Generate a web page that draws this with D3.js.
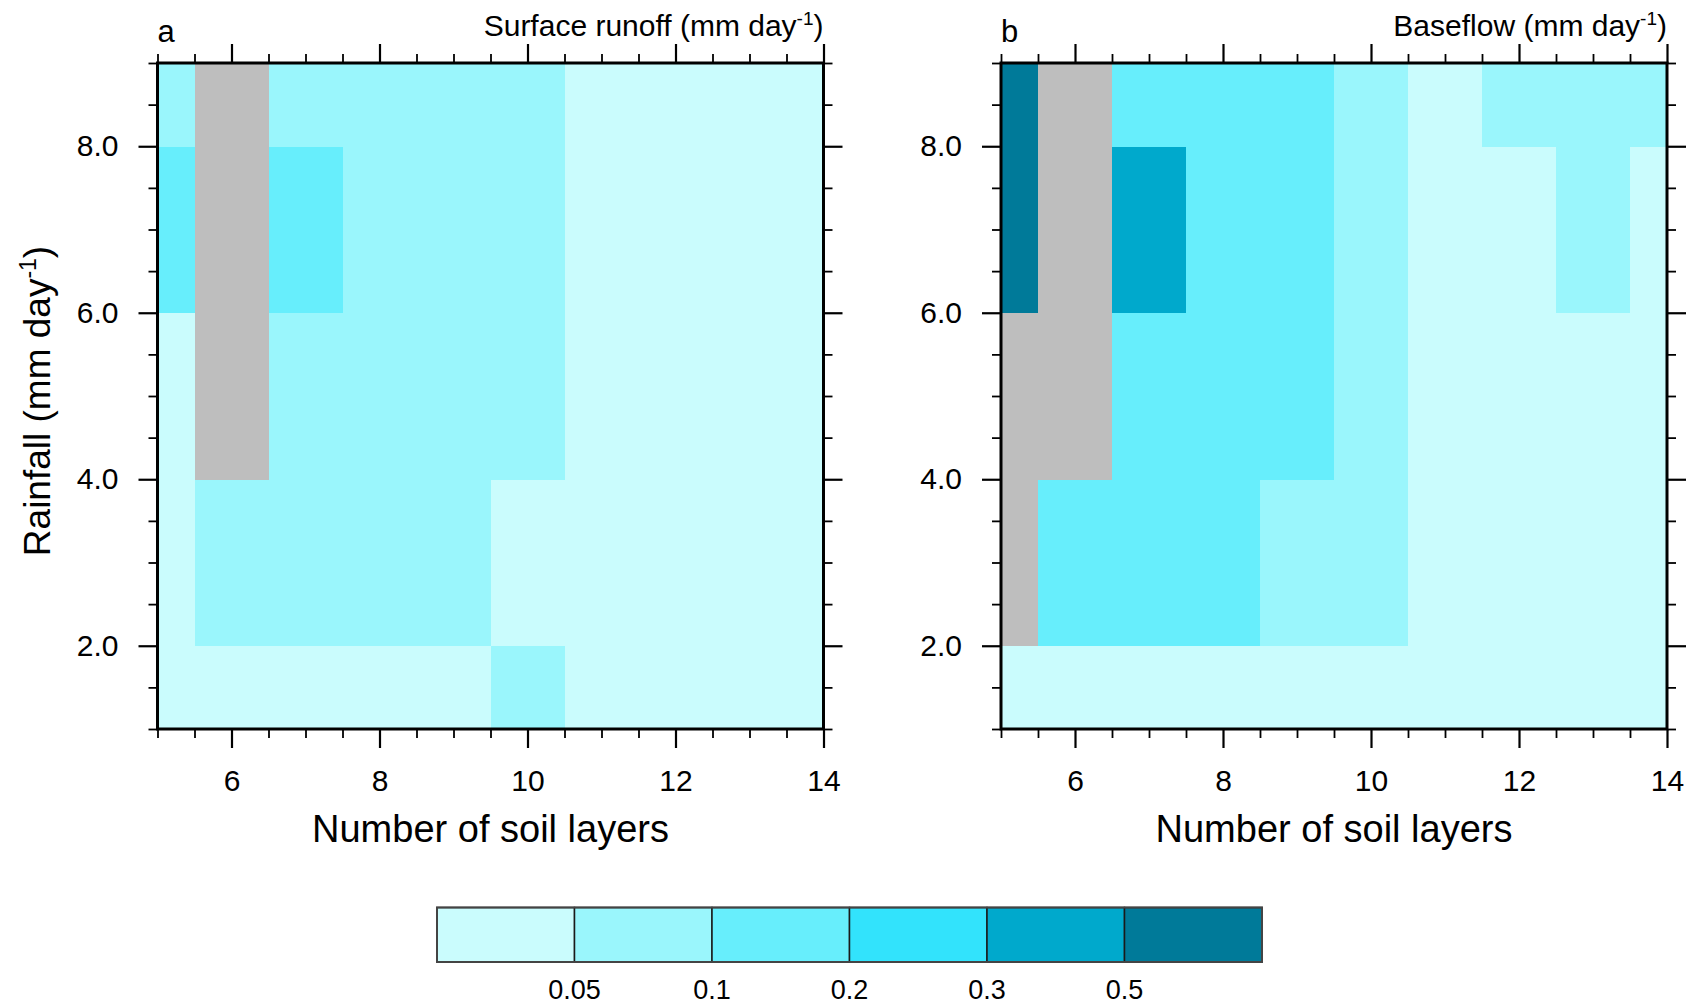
<!DOCTYPE html>
<html>
<head>
<meta charset="utf-8">
<script src="https://cdn.jsdelivr.net/npm/d3@7"></script>
<style>
  html, body { margin: 0; padding: 0; background: #fff; }
  svg { display: block; font-family: "Liberation Sans", Arial, Helvetica, sans-serif; }
</style>
</head>
<body>
<svg id="chart" width="1700" height="1005"></svg>
<script>
// ---------------- DATA ----------------
const layers = [5, 6, 7, 8, 9, 10, 11, 12, 13, 14];      // Number of soil layers
const rainfall = [1, 3, 5, 7, 9];                         // Rainfall (mm/day), rows bottom -> top

// Surface runoff (mm/day); rows follow `rainfall`, columns follow `layers`; null = missing
const runoff = [
  [0.03, 0.03, 0.03, 0.03, 0.04, 0.07, 0.02, 0.02, 0.02, 0.02],
  [0.04, 0.07, 0.08, 0.08, 0.06, 0.04, 0.03, 0.03, 0.02, 0.02],
  [0.04, null, 0.08, 0.08, 0.07, 0.06, 0.04, 0.03, 0.03, 0.03],
  [0.11, null, 0.11, 0.09, 0.08, 0.07, 0.04, 0.04, 0.03, 0.03],
  [0.09, null, 0.09, 0.09, 0.08, 0.07, 0.045, 0.04, 0.04, 0.03]
];

// Baseflow (mm/day)
const baseflow = [
  [0.03, 0.03, 0.04, 0.04, 0.04, 0.04, 0.03, 0.03, 0.03, 0.02],
  [null, 0.13, 0.14, 0.12, 0.09, 0.07, 0.04, 0.04, 0.03, 0.03],
  [null, null, 0.16, 0.15, 0.13, 0.08, 0.04, 0.04, 0.04, 0.03],
  [0.62, null, 0.35, 0.18, 0.15, 0.09, 0.045, 0.048, 0.06, 0.04],
  [0.58, null, 0.19, 0.17, 0.14, 0.09, 0.045, 0.06, 0.07, 0.06]
];

const levels = [0.05, 0.1, 0.2, 0.3, 0.5];
const levelLabels = ["0.05", "0.1", "0.2", "0.3", "0.5"];
const palette = ["#CAFCFD", "#9AF6FC", "#67EEFC", "#32E3FC", "#00A9CC", "#007A99"];
const missingColor = "#BEBEBE";

const xMajorTicks = [6, 8, 10, 12, 14];
const yMajorTicks = [2, 4, 6, 8];

const panels = [
  { tag: "a", title: "Surface runoff (mm day", data: runoff },
  { tag: "b", title: "Baseflow (mm day", data: baseflow }
];

// ---------------- DRAW ----------------
const svg = d3.select("#chart");
const color = d3.scaleThreshold().domain(levels).range(palette);

const plotTop = 63, plotBottom = 729;
const lefts = [157.5, 1001];
const plotW = 666;

function edges(arr, lo, hi) {
  return arr.map((v, i) => [
    i === 0 ? lo : (arr[i - 1] + v) / 2,
    i === arr.length - 1 ? hi : (v + arr[i + 1]) / 2
  ]);
}
const xEdges = edges(layers, 5, 14);
const yEdges = edges(rainfall, 1, 9);

const xMinor = d3.range(5, 14.001, 0.5).filter(v => !xMajorTicks.includes(v));
const yMinor = d3.range(1, 9.001, 0.5).filter(v => !yMajorTicks.includes(v));

panels.forEach((p, pi) => {
  const L = lefts[pi];
  const x = d3.scaleLinear().domain([5, 14]).range([L, L + plotW]);
  const y = d3.scaleLinear().domain([1, 9]).range([plotBottom, plotTop]);
  const g = svg.append("g");

  // cells
  const cells = [];
  p.data.forEach((row, ri) => row.forEach((v, ci) => cells.push({ v, ri, ci })));
  g.append("g").attr("shape-rendering", "crispEdges")
    .selectAll("rect").data(cells).join("rect")
    .attr("x", d => x(xEdges[d.ci][0]))
    .attr("width", d => x(xEdges[d.ci][1]) - x(xEdges[d.ci][0]) + 0.5)
    .attr("y", d => y(yEdges[d.ri][1]))
    .attr("height", d => y(yEdges[d.ri][0]) - y(yEdges[d.ri][1]) + 0.5)
    .attr("fill", d => d.v == null ? missingColor : color(d.v));

  // axes
  const styleAxis = (sel, w) => {
    sel.select(".domain").remove();
    sel.selectAll(".tick line").attr("stroke", "#000").attr("stroke-width", w);
  };
  const fs = "30px";

  // bottom
  g.append("g").attr("transform", `translate(0,${plotBottom})`)
    .call(d3.axisBottom(x).tickValues(xMajorTicks).tickSize(19).tickPadding(22).tickFormat(d3.format("d")))
    .call(s => styleAxis(s, 2.2))
    .call(s => s.selectAll("text").attr("font-size", fs).attr("fill", "#000").attr("font-family", "Liberation Sans, Arial, sans-serif"));
  g.append("g").attr("transform", `translate(0,${plotBottom})`)
    .call(d3.axisBottom(x).tickValues(xMinor).tickSize(9).tickFormat(""))
    .call(s => styleAxis(s, 1.8));
  // top
  g.append("g").attr("transform", `translate(0,${plotTop})`)
    .call(d3.axisTop(x).tickValues(xMajorTicks).tickSize(19).tickFormat(""))
    .call(s => styleAxis(s, 2.2));
  g.append("g").attr("transform", `translate(0,${plotTop})`)
    .call(d3.axisTop(x).tickValues(xMinor).tickSize(9).tickFormat(""))
    .call(s => styleAxis(s, 1.8));
  // left
  g.append("g").attr("transform", `translate(${L},0)`)
    .call(d3.axisLeft(y).tickValues(yMajorTicks).tickSize(19).tickPadding(20).tickFormat(d3.format(".1f")))
    .call(s => styleAxis(s, 2.2))
    .call(s => s.selectAll("text").attr("font-size", fs).attr("fill", "#000").attr("font-family", "Liberation Sans, Arial, sans-serif"));
  g.append("g").attr("transform", `translate(${L},0)`)
    .call(d3.axisLeft(y).tickValues(yMinor).tickSize(9).tickFormat(""))
    .call(s => styleAxis(s, 1.8));
  // right
  g.append("g").attr("transform", `translate(${L + plotW},0)`)
    .call(d3.axisRight(y).tickValues(yMajorTicks).tickSize(19).tickFormat(""))
    .call(s => styleAxis(s, 2.2));
  g.append("g").attr("transform", `translate(${L + plotW},0)`)
    .call(d3.axisRight(y).tickValues(yMinor).tickSize(9).tickFormat(""))
    .call(s => styleAxis(s, 1.8));

  // frame
  g.append("rect")
    .attr("x", x(5)).attr("y", y(9))
    .attr("width", x(14) - x(5)).attr("height", y(1) - y(9))
    .attr("fill", "none").attr("stroke", "#000").attr("stroke-width", 3);

  // tag label
  g.append("text").attr("x", x(5)).attr("y", 42)
    .attr("font-size", "31px").text(p.tag);

  // title (right aligned)
  const t = g.append("text").attr("x", x(14)).attr("y", 36)
    .attr("text-anchor", "end").attr("font-size", "30px");
  t.append("tspan").text(p.title);
  t.append("tspan").attr("font-size", "19px").attr("dy", -11).text("-1");
  t.append("tspan").attr("dy", 11).text(")");

  // x axis title
  g.append("text").attr("x", (x(5) + x(14)) / 2).attr("y", 842)
    .attr("text-anchor", "middle").attr("font-size", "38px")
    .text("Number of soil layers");

  // y axis title (only panel a)
  if (pi === 0) {
    const yt = g.append("text")
      .attr("transform", `translate(50,${(plotTop + plotBottom) / 2 + 5}) rotate(-90)`)
      .attr("text-anchor", "middle").attr("font-size", "37px");
    yt.append("tspan").text("Rainfall (mm day");
    yt.append("tspan").attr("font-size", "23px").attr("dy", -14).text("-1");
    yt.append("tspan").attr("dy", 14).text(")");
  }
});

// ---------------- COLORBAR ----------------
const cbX0 = 437, cbX1 = 1262, cbY0 = 907.5, cbY1 = 962;
const cb = d3.scaleLinear().domain([0, palette.length]).range([cbX0, cbX1]);
const cbg = svg.append("g");
cbg.selectAll("rect.box").data(palette).join("rect").attr("class", "box")
  .attr("x", (d, i) => cb(i)).attr("y", cbY0)
  .attr("width", (d, i) => cb(i + 1) - cb(i)).attr("height", cbY1 - cbY0)
  .attr("fill", d => d).attr("stroke", "#1a1a1a").attr("stroke-width", 1.5);
cbg.append("rect").attr("x", cbX0).attr("y", cbY0)
  .attr("width", cbX1 - cbX0).attr("height", cbY1 - cbY0)
  .attr("fill", "none").attr("stroke", "#444").attr("stroke-width", 2);
cbg.selectAll("text").data(levelLabels).join("text")
  .attr("x", (d, i) => cb(i + 1)).attr("y", 999)
  .attr("text-anchor", "middle").attr("font-size", "27px")
  .text(d => d);
</script>
</body>
</html>
